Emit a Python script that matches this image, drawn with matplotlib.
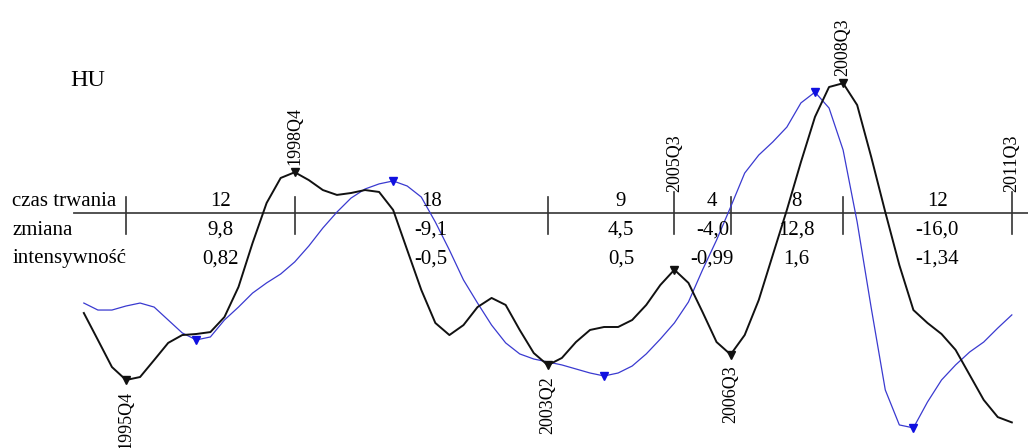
import matplotlib
matplotlib.use("Agg")
import matplotlib.pyplot as plt

# Quarterly series, 1995Q1 .. 2011Q3 (index 0 = 1995Q1)
start_year = 1995
hu_cycle = [
    -0.84, -2.11, -3.39, -4.00, -3.86, -3.06, -2.25, -1.88, -1.83, -1.74,
    -1.03, 0.39, 2.46, 4.35, 5.53, 5.80, 5.43, 4.96, 4.73, 4.82,
    4.96, 4.87, 4.02, 2.13, 0.25, -1.31, -1.88, -1.41, -0.56, -0.13,
    -0.46, -1.64, -2.73, -3.30, -2.96, -2.21, -1.64, -1.50, -1.50, -1.17,
    -0.46, 0.48, 1.20, 0.58, -0.79, -2.21, -2.80, -1.88, -0.23, 1.90,
    4.02, 6.28, 8.41, 9.82, 10.00, 8.97, 6.52, 3.92, 1.42, -0.70,
    -1.31, -1.83, -2.58, -3.76, -4.94, -5.75, -6.00,
]
ref_cycle = [
    -0.37, -0.70, -0.70, -0.51, -0.37, -0.56, -1.17, -1.78, -2.11, -1.97,
    -1.17, -0.56, 0.10, 0.58, 1.00, 1.57, 2.32, 3.17, 3.92, 4.58,
    5.01, 5.25, 5.39, 5.15, 4.63, 3.45, 2.13, 0.72, -0.37, -1.41,
    -2.25, -2.77, -3.01, -3.15, -3.29, -3.48, -3.67, -3.81, -3.67, -3.34,
    -2.77, -2.07, -1.31, -0.32, 1.19, 2.60, 4.16, 5.76, 6.61, 7.23,
    7.93, 9.07, 9.58, 8.83, 6.85, 3.45, -0.60, -4.47, -6.12, -6.26,
    -5.04, -4.00, -3.29, -2.68, -2.21, -1.55, -0.93,
]

# Turning points (quarter indices) and their kind
hu_turns = [3, 15, 33, 42, 46, 54, 66]
hu_kinds = ["trough", "peak", "trough", "peak", "trough", "peak", "end"]
ref_turns = [8, 22, 37, 52, 59]

# Phase table
row_labels = ["czas trwania", "zmiana", "intensywność"]
durations = ["12", "18", "9", "4", "8", "12"]
changes = ["9,8", "-9,1", "4,5", "-4,0", "12,8", "-16,0"]
intensities = ["0,82", "-0,5", "0,5", "-0,99", "1,6", "-1,34"]
title = "HU"


def qlabel(i):
    return f"{start_year + i // 4}Q{i % 4 + 1}"


plt.rcParams["font.family"] = ["Liberation Serif", "DejaVu Serif"]

fig = plt.figure(figsize=(10.28, 4.48), dpi=100)
ax = fig.add_axes([0, 0, 1, 1])
ax.set_xlim(-5.962, 67.15)
ax.set_ylim(-7.208, 13.925)
ax.axis("off")

x = list(range(len(hu_cycle)))
black = "#111111"
blue = "#3a3ad0"

ax.plot(x, ref_cycle, color=blue, lw=0.9, zorder=3)
ax.plot(ref_turns, [ref_cycle[i] for i in ref_turns], ls="none", marker="v",
        ms=6, color="#1010e0", zorder=4)
ax.plot(x, hu_cycle, color=black, lw=1.4, zorder=5)
marked = [i for i, k in zip(hu_turns, hu_kinds) if k != "end"]
ax.plot(marked, [hu_cycle[i] for i in marked], ls="none", marker="v",
        ms=6, color=black, zorder=6)

# Table rule and phase separators
axis_y = 3.877
row_y = [4.40, 3.06, 1.72]
tick_lo, tick_hi = 2.90, 4.63
ax.plot([-0.7, 67.15], [axis_y, axis_y], color="#444444", lw=1.3, zorder=2)

for i, kind in zip(hu_turns, hu_kinds):
    v = hu_cycle[i]
    if kind == "trough":
        ax.plot([i, i], [tick_lo, tick_hi], color="#333333", lw=1.2)
        ax.annotate(qlabel(i), (i, v), xytext=(0, -8), textcoords="offset points",
                    rotation=90, ha="center", va="top", fontsize=13)
    elif v > tick_hi:
        ax.plot([i, i], [tick_lo, tick_hi], color="#333333", lw=1.2)
        ax.annotate(qlabel(i), (i, v), xytext=(0, 5), textcoords="offset points",
                    rotation=90, ha="center", va="bottom", fontsize=13)
    else:
        ax.plot([i, i], [tick_lo, 4.85], color="#333333", lw=1.2)
        ax.text(i, 4.85, qlabel(i), rotation=90, ha="center", va="bottom",
                fontsize=13)

for label, yy in zip(row_labels, row_y):
    ax.text(-5.1, yy, label, ha="left", va="center", fontsize=15)

for k, cells in enumerate(zip(durations, changes, intensities)):
    mid = (hu_turns[k] + hu_turns[k + 1]) / 2 + 0.7
    for txt, yy in zip(cells, row_y):
        ax.text(mid, yy, txt, ha="center", va="center", fontsize=15, zorder=7)

ax.text(-0.98, 10.15, title, ha="left", va="center", fontsize=17.5)

fig.savefig("out.png", dpi=100)
